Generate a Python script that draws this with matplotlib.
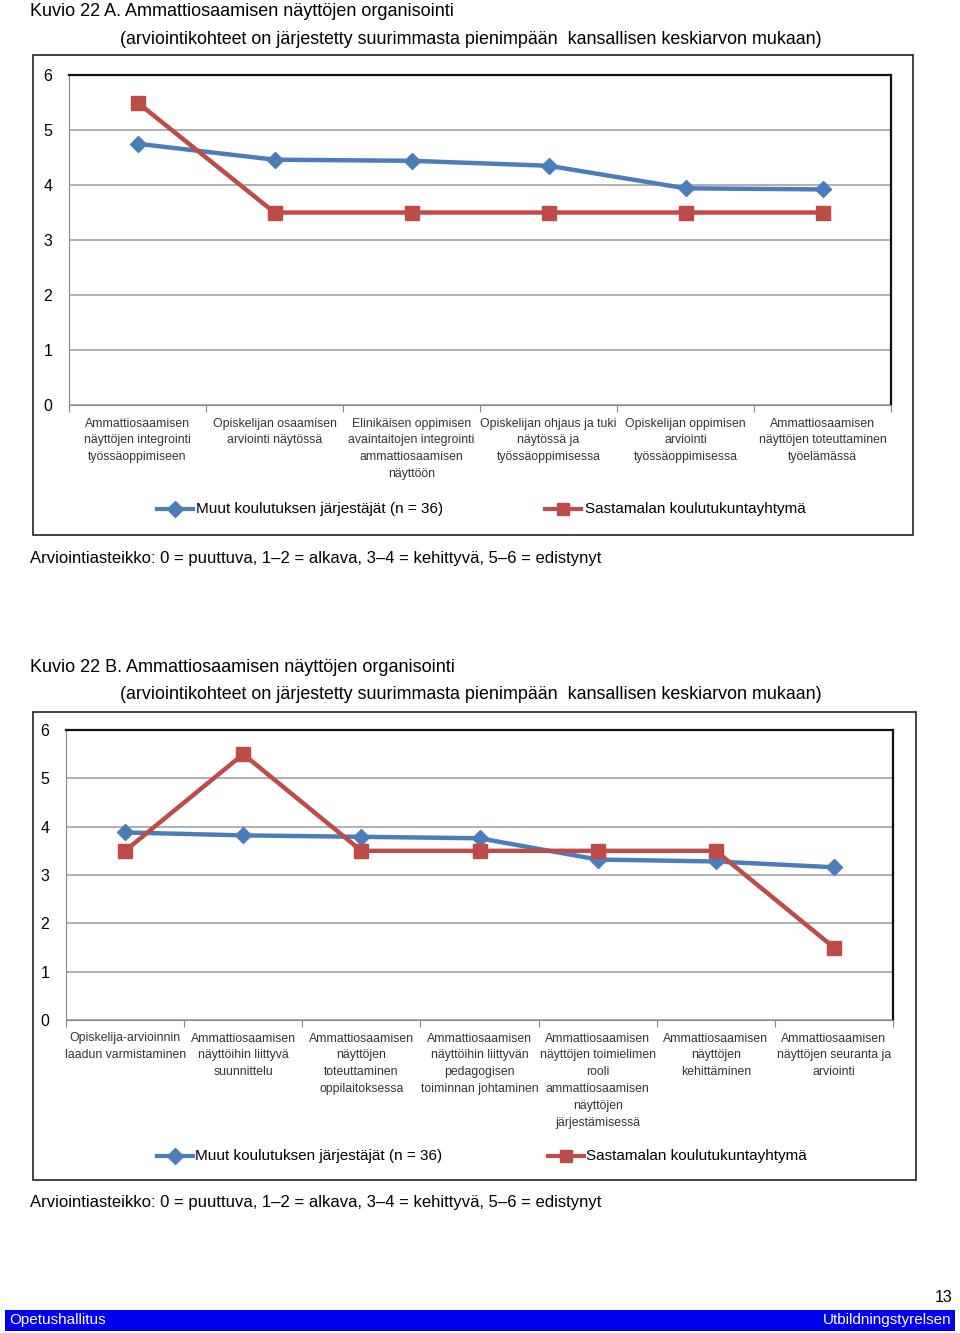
import matplotlib
matplotlib.use('Agg')
import matplotlib.pyplot as plt
from matplotlib.patches import Rectangle
from matplotlib.lines import Line2D

plt.rcParams['font.family'] = ['Liberation Sans', 'DejaVu Sans']

# data
cats_a = ['Ammattiosaamisen\nnäyttöjen integrointi\ntyössäoppimiseen',
          'Opiskelijan osaamisen\narviointi näytössä',
          'Elinikäisen oppimisen\navaintaitojen integrointi\nammattiosaamisen\nnäyttöön',
          'Opiskelijan ohjaus ja tuki\nnäytössä ja\ntyössäoppimisessa',
          'Opiskelijan oppimisen\narviointi\ntyössäoppimisessa',
          'Ammattiosaamisen\nnäyttöjen toteuttaminen\ntyöelämässä']
muut_a = [4.75, 4.46, 4.44, 4.35, 3.94, 3.92]
sast_a = [5.5, 3.5, 3.5, 3.5, 3.5, 3.5]

cats_b = ['Opiskelija-arvioinnin\nlaadun varmistaminen',
          'Ammattiosaamisen\nnäyttöihin liittyvä\nsuunnittelu',
          'Ammattiosaamisen\nnäyttöjen\ntoteuttaminen\noppilaitoksessa',
          'Ammattiosaamisen\nnäyttöihin liittyvän\npedagogisen\ntoiminnan johtaminen',
          'Ammattiosaamisen\nnäyttöjen toimielimen\nrooli\nammattiosaamisen\nnäyttöjen\njärjestämisessä',
          'Ammattiosaamisen\nnäyttöjen\nkehittäminen',
          'Ammattiosaamisen\nnäyttöjen seuranta ja\narviointi']
muut_b = [3.88, 3.82, 3.79, 3.76, 3.32, 3.28, 3.16]
sast_b = [3.5, 5.5, 3.5, 3.5, 3.5, 3.5, 1.5]

label_muut = 'Muut koulutuksen järjestäjät (n = 36)'
label_sast = 'Sastamalan koulutukuntayhtymä'
scale_note = 'Arviointiasteikko: 0 = puuttuva, 1\u20132 = alkava, 3\u20134 = kehittyvä, 5\u20136 = edistynyt'
subtitle = '(arviointikohteet on järjestetty suurimmasta pienimpään  kansallisen keskiarvon mukaan)'

W, H = 960, 1333
BLUE = '#4A7EBB'
RED = '#BE4B48'

fig = plt.figure(figsize=(W / 100, H / 100), dpi=100)


def fx(x):
    return x / W


def fy(y):
    return 1 - y / H


def draw_chart(cats, muut, sast, box, plot, legend_y, leg_x):
    # outer frame
    x0, y0, x1, y1 = box
    fig.add_artist(Rectangle((fx(x0), fy(y1)), fx(x1) - fx(x0), fy(y0) - fy(y1),
                             transform=fig.transFigure, fill=False,
                             edgecolor='#222222', lw=1.2))
    px0, py0, px1, py1 = plot
    ax = fig.add_axes([fx(px0), fy(py1), fx(px1) - fx(px0), fy(py0) - fy(py1)])
    n = len(cats)
    xs = list(range(n))
    ax.plot(xs, muut, color=BLUE, lw=3.2, marker='D', ms=8.5, zorder=3,
            label=label_muut)
    ax.plot(xs, sast, color=RED, lw=3.2, marker='s', ms=9.5, zorder=4,
            label=label_sast)
    ax.set_xlim(-0.5, n - 0.5)
    ax.set_ylim(0, 6)
    ax.set_yticks(range(7))
    ax.yaxis.grid(True, color='#9a9a9a', lw=1.1)
    ax.set_axisbelow(True)
    ax.tick_params(axis='y', length=0, pad=12, labelsize=11.5)
    ax.set_xticks([i - 0.5 for i in range(n + 1)])
    ax.set_xticklabels([])
    ax.set_xticks(xs, minor=True)
    ax.set_xticklabels(cats, minor=True, fontsize=8.8, color='#333333',
                       linespacing=1.55, va='top')
    ax.tick_params(axis='x', which='major', length=5, color='#888888')
    ax.tick_params(axis='x', which='minor', length=0, pad=9)
    for s in ['left', 'bottom']:
        ax.spines[s].set_color('#888888')
    for s in ['top', 'right']:
        ax.spines[s].set_color('#111111')
        ax.spines[s].set_linewidth(1.6)
    # legend items
    (bx, btx), (rx, rtx) = leg_x
    for lx, tx, col, mk, ms, lab in [(bx, btx, BLUE, 'D', 8, label_muut),
                                     (rx, rtx, RED, 's', 9, label_sast)]:
        fig.add_artist(Line2D([fx(lx), fx(lx + 36)], [fy(legend_y)] * 2,
                              transform=fig.transFigure, color=col, lw=3))
        fig.add_artist(Line2D([fx(lx + 18)], [fy(legend_y)], transform=fig.transFigure,
                              color=col, marker=mk, ms=ms, lw=0))
        fig.text(fx(tx), fy(legend_y), lab, fontsize=11, va='center', ha='left')
    return ax


# chart A
fig.text(fx(30), fy(12), 'Kuvio 22 A. Ammattiosaamisen näyttöjen organisointi',
         fontsize=13, va='center')
fig.text(fx(120), fy(40), subtitle, fontsize=12.9, va='center')
draw_chart(cats_a, muut_a, sast_a, (33, 55, 913, 535), (69, 75, 891, 405), 509,
           ((157, 196), (545, 585)))
fig.text(fx(30), fy(558), scale_note, fontsize=12, va='center')

# chart B
fig.text(fx(30), fy(667), 'Kuvio 22 B. Ammattiosaamisen näyttöjen organisointi',
         fontsize=13, va='center')
fig.text(fx(120), fy(695), subtitle, fontsize=12.9, va='center')
draw_chart(cats_b, muut_b, sast_b, (33, 712, 916, 1180), (66, 730, 893, 1020), 1156,
           ((157, 195), (548, 586)))
fig.text(fx(30), fy(1202), scale_note, fontsize=12, va='center')

# footer
fig.text(fx(953), fy(1297), '13', fontsize=11.5, ha='right', va='center')
fig.add_artist(Rectangle((fx(5), fy(1331)), fx(955) - fx(5), fy(1310) - fy(1331),
                         transform=fig.transFigure, color='#0000F0', lw=0))
fig.text(fx(9), fy(1320), 'Opetushallitus', fontsize=11, color='white', va='center')
fig.text(fx(952), fy(1320), 'Utbildningstyrelsen', fontsize=11, color='white',
         va='center', ha='right')

fig.savefig('out.png', dpi=100)
